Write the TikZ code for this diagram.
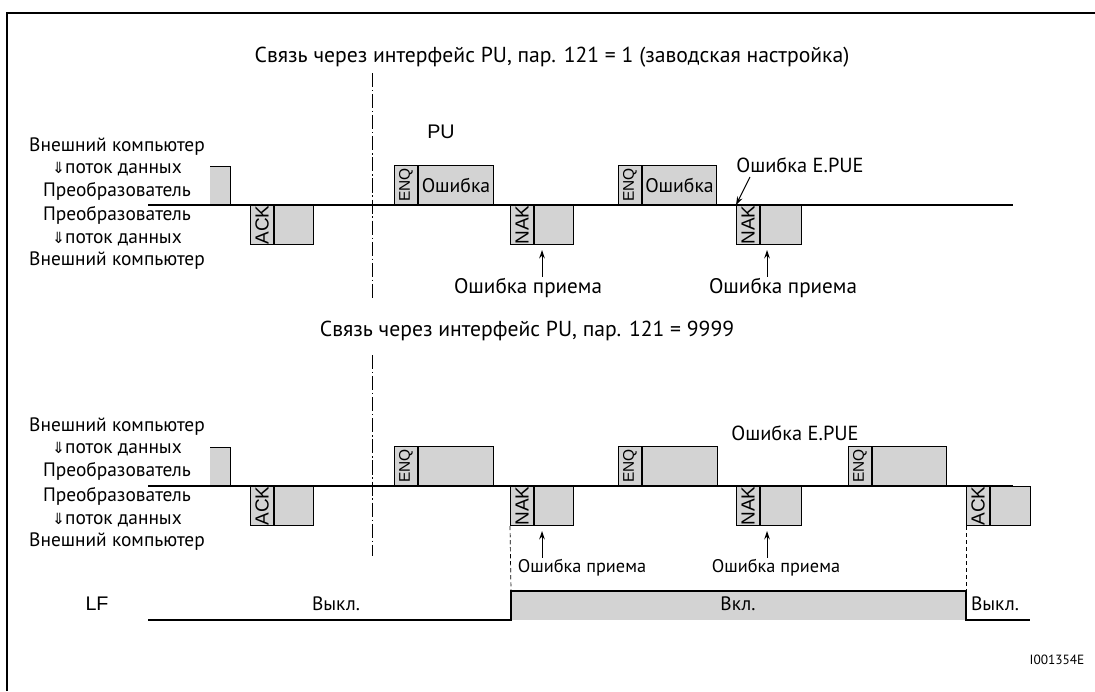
\documentclass[tikz,border=0pt]{standalone}
\usepackage{fontspec}
\setmainfont{PT Sans}
\newfontfamily\arialfont{Liberation Sans}
\newfontfamily\arrowfont{DejaVu Sans}
\newcommand{\flowdown}{{\arrowfont\fontsize{11}{12}\selectfont ⇓}}
\usetikzlibrary{arrows.meta}
\definecolor{boxgray}{HTML}{D3D3D3}
\tikzset{sig/.style={line width=0.9pt},
  cell/.style={draw, line width=0.7pt, fill=boxgray, inner sep=0pt,
    minimum height=0.975cm},
  code/.style={cell, minimum width=0.575cm},
  codetxt/.style={rotate=90, inner sep=0pt, font=\arialfont\fontsize{13.5}{14}\selectfont},
  enqtxt/.style={codetxt, font=\arialfont\fontsize{11}{12}\selectfont},
  lbl/.style={font=\fontsize{13.8}{16}\selectfont, align=center, inner sep=0pt},
  note/.style={font=\fontsize{14.5}{16}\selectfont, inner sep=1pt},
  title/.style={font=\fontsize{15.4}{17}\selectfont, inner sep=1pt},
  arr/.style={-{Stealth[length=6pt, width=4pt]}, line width=0.7pt},
  axis/.style={dash pattern=on 10pt off 2pt on 1pt off 2pt, line width=0.6pt}}

\begin{document}
\begin{tikzpicture}[x=0.025cm, y=-0.025cm]
\useasboundingbox (0,0) rectangle (1095,691);
\draw[line width=1.4pt] (7,691) -- (7,13) -- (1095,13);

% --- PU, 121 = 1
\node[title] (titleA) at (552,57)
  {Связь через интерфейс PU, пар. 121 = 1 (заводская настройка)};
\draw[axis] (372,73) -- (372,300);
\node[lbl] (hostA) at (117,169)
  {Внешний компьютер\\\flowdown поток данных\\Преобразователь};
\node[lbl] (invA) at (117,238)
  {Преобразователь\\\flowdown поток данных\\Внешний компьютер};
\node[font=\arialfont\fontsize{14}{16}\selectfont] (pu) at (441,132) {PU};
\fill[boxgray] (210,166) rectangle (230,205);
\draw[line width=0.7pt] (210,166) -- (230,166) -- (230,205);
\foreach \n/\x/\w in {enqA/394/75, enqB/618/74} {
  \node[code, anchor=south west] (\n) at (\x,205) {};
  \node[cell, anchor=south west, minimum width=\w*0.025cm] (\n d) at (\n.south east)
    {\fontsize{14}{16}\selectfont Ошибка};
  \node[enqtxt] (\n t) at (\n) {ENQ};
}
\foreach \n/\x/\w/\c in {ackA/250/39/ACK, nakA/510/39/NAK, nakB/736/41/NAK} {
  \node[code, anchor=north west] (\n) at (\x,205) {};
  \node[cell, anchor=north west, minimum width=\w*0.025cm] (\n d) at (\n.north east) {};
  \node[codetxt] (\n t) at (\n) {\c};
}
\draw[sig] (148,205) -- (1013,205);
\node[note, font=\fontsize{15}{17}\selectfont] (rxA) at (528,288) {Ошибка приема};
\node[note, font=\fontsize{15}{17}\selectfont] (rxB) at (783,288) {Ошибка приема};
\coordinate (tipA) at (542,250);
\coordinate (tipB) at (767,250);
\draw[arr] (rxA.north -| tipA) -- (tipA);
\draw[arr] (rxB.north -| tipB) -- (tipB);
\node[note] (epueA) at (800,165) {Ошибка E.PUE};
\coordinate (epueT) at (750,177);
\draw[arr] (epueT) -- (nakB.north west);

% --- PU, 121 = 9999
\node[title] (titleB) at (527,331) {Связь через интерфейс PU, пар. 121 = 9999};
\draw[axis] (372,355) -- (372,556);
\node[lbl] (hostB) at (117,449)
  {Внешний компьютер\\\flowdown поток данных\\Преобразователь};
\node[lbl] (invB) at (117,519)
  {Преобразователь\\\flowdown поток данных\\Внешний компьютер};
\fill[boxgray] (210,447) rectangle (230,486);
\draw[line width=0.7pt] (210,447) -- (230,447) -- (230,486);
\foreach \n/\x/\w in {enqC/394/75, enqD/618/75, enqE/848/74} {
  \node[code, anchor=south west] (\n) at (\x,486) {};
  \node[cell, anchor=south west, minimum width=\w*0.025cm] (\n d) at (\n.south east) {};
  \node[enqtxt] (\n t) at (\n) {ENQ};
}
\foreach \n/\x/\w/\c in {ackC/250/39/ACK, nakC/510/39/NAK, nakD/736/41/NAK,
    ackE/966/40/ACK} {
  \node[code, anchor=north west] (\n) at (\x,486) {};
  \node[cell, anchor=north west, minimum width=\w*0.025cm] (\n d) at (\n.north east) {};
  \node[codetxt] (\n t) at (\n) {\c};
}
\draw[sig] (148,486) -- (1013,486);
\node[note, font=\fontsize{13}{15}\selectfont] (rxC) at (582,568) {Ошибка приема};
\node[note, font=\fontsize{13}{15}\selectfont] (rxD) at (776,568) {Ошибка приема};
\coordinate (tipC) at (542,531);
\coordinate (tipD) at (767,531);
\draw[arr] (rxC.north -| tipC) -- (tipC);
\draw[arr] (rxD.north -| tipD) -- (tipD);
\node[note] (epueB) at (795,433) {Ошибка E.PUE};

% --- LF
\node[font=\arialfont\fontsize{14}{16}\selectfont] (lf) at (97,604) {LF};
\fill[boxgray] (511,591) rectangle (966,620);
\draw[sig] (148,620) -- (511,620) -- (511,591) -- (966,591) -- (966,620) -- (1030,620);
\draw[line width=0.5pt, dash pattern=on 3pt off 2pt] (nakC.south west) -- (511,591);
\draw[line width=0.5pt, dash pattern=on 3pt off 2pt] (ackE.south west) -- (966,591);
\node[lbl] (offA) at (336,604) {Выкл.};
\node[lbl] (onA) at (738,604) {Вкл.};
\node[lbl] (offB) at (995,604) {Выкл.};
\node[font=\fontsize{9.5}{10}\selectfont] (fig) at (1057,660) {I001354E};
\end{tikzpicture}
\end{document}
